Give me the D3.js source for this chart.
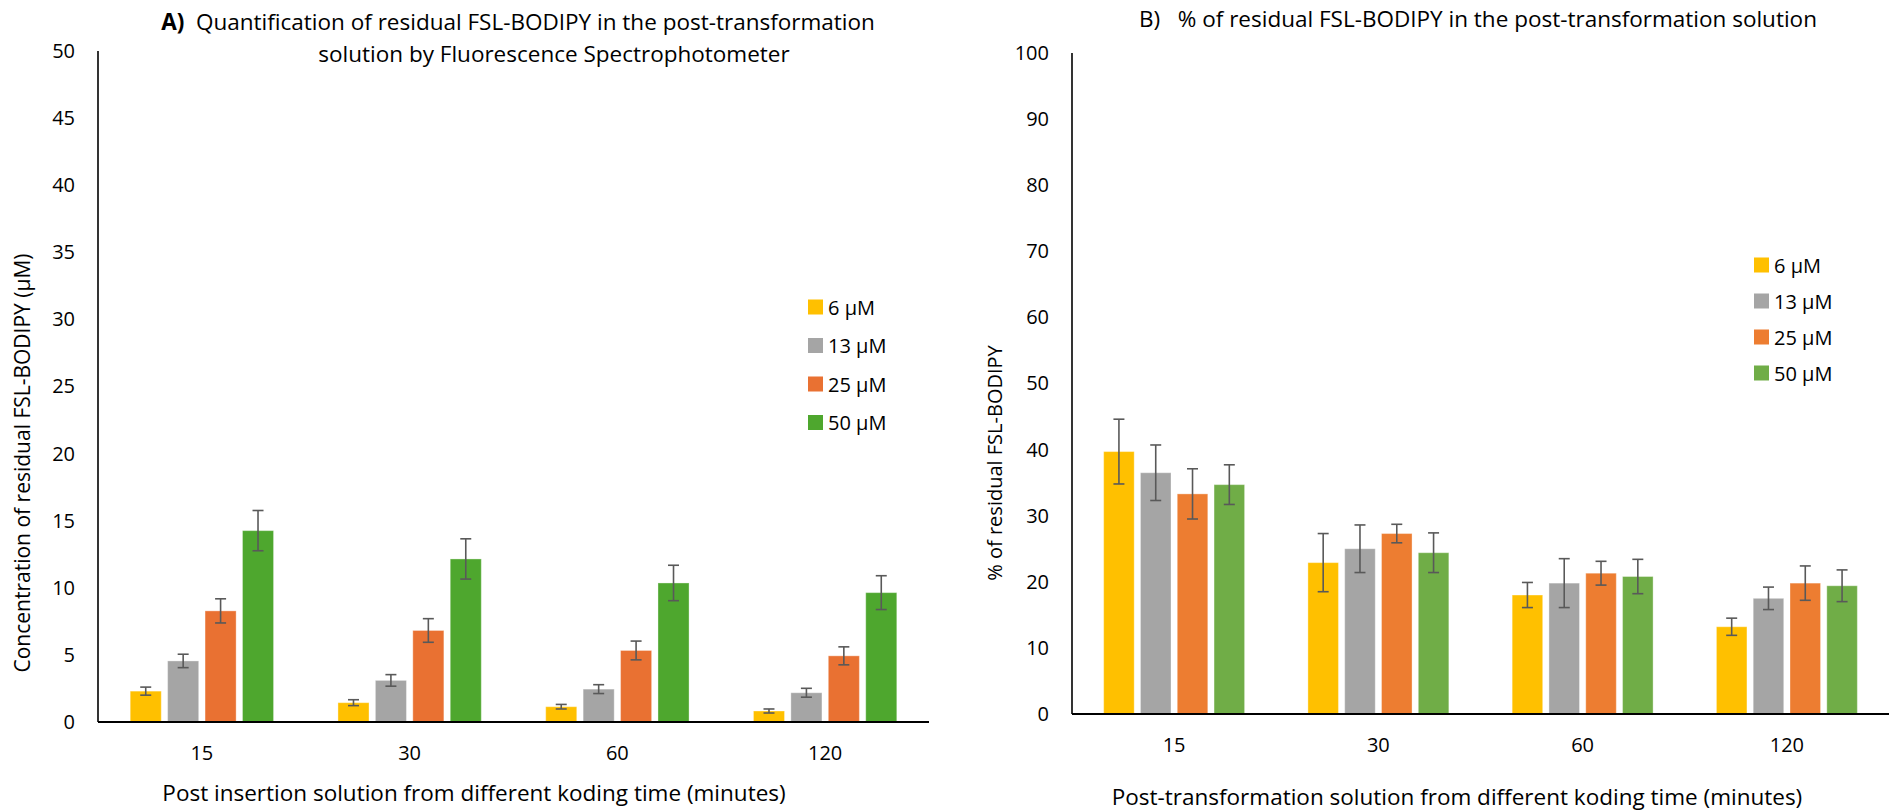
<!DOCTYPE html>
<html>
<head>
<meta charset="utf-8">
<script src="https://cdn.jsdelivr.net/npm/d3@7"></script>
<style>
  html, body { margin: 0; padding: 0; background: #fff; }
  svg { display: block; font-family: "Open Sans", "Liberation Sans", sans-serif; }
</style>
</head>
<body>
<svg id="chart" width="1889" height="812"></svg>
<script>
// Koding times (x categories) and concentration series
const times = ["15", "30", "60", "120"];
const seriesNames = ["6 μM", "13 μM", "25 μM", "50 μM"];

// Panel A: residual concentration (μM), mean and error per series, ordered by time
const concMean = [
  [2.30, 1.44, 1.14, 0.82],
  [4.55, 3.10, 2.45, 2.18],
  [8.28, 6.82, 5.33, 4.93],
  [14.26, 12.15, 10.36, 9.64]
];
const concErr = [
  [0.30, 0.22, 0.17, 0.15],
  [0.50, 0.43, 0.33, 0.33],
  [0.90, 0.88, 0.70, 0.67],
  [1.50, 1.50, 1.32, 1.26]
];

// Panel B: residual percentage, mean and error per series, ordered by time
const pctMean = [
  [39.7, 22.9, 18.0, 13.2],
  [36.5, 25.0, 19.8, 17.5],
  [33.3, 27.3, 21.3, 19.8],
  [34.7, 24.4, 20.8, 19.4]
];
const pctErr = [
  [4.9, 4.4, 1.9, 1.3],
  [4.2, 3.6, 3.7, 1.7],
  [3.8, 1.4, 1.8, 2.6],
  [3.0, 3.0, 2.6, 2.4]
];

const concTicks = d3.range(0, 51, 5);
const pctTicks = d3.range(0, 101, 10);

const colorsA = ["#FFC000", "#A5A5A5", "#E97132", "#4EA72E"];
const colorsB = ["#FFC000", "#A5A5A5", "#ED7D31", "#70AD47"];

const titleSize = 22.5;
const svg = d3.select("#chart");

function drawPanel(cfg) {
  const g = svg.append("g");
  const x = d3.scaleBand().domain(times).range([cfg.x0, cfg.x1])
    .paddingInner(0.31).paddingOuter(0.155);
  const xs = d3.scaleBand().domain(d3.range(seriesNames.length))
    .range([0, x.bandwidth()]).paddingInner(0.17);
  const y = d3.scaleLinear().domain([0, cfg.max]).range([cfg.yBase, cfg.yTop]);

  // bars and error bars
  cfg.mean.forEach((vals, si) => {
    const sg = g.append("g");
    sg.selectAll("rect").data(vals).join("rect")
      .attr("x", (d, i) => x(times[i]) + xs(si))
      .attr("y", d => y(d))
      .attr("width", xs.bandwidth())
      .attr("height", d => y(0) - y(d))
      .attr("fill", cfg.colors[si])
      .attr("stroke", "#ffffff")
      .attr("stroke-opacity", 0.35)
      .attr("stroke-width", 1);

    const eg = sg.selectAll("g.err").data(vals).join("g").attr("class", "err")
      .attr("stroke", "#595959").attr("stroke-width", 1.6).attr("fill", "none");
    eg.each(function (d, i) {
      const e = cfg.err[si][i];
      const cx = x(times[i]) + xs(si) + xs.bandwidth() / 2;
      const sel = d3.select(this);
      sel.append("line").attr("x1", cx).attr("x2", cx).attr("y1", y(d + e)).attr("y2", y(d - e));
      sel.append("line").attr("x1", cx - 5.5).attr("x2", cx + 5.5).attr("y1", y(d + e)).attr("y2", y(d + e));
      sel.append("line").attr("x1", cx - 5.5).attr("x2", cx + 5.5).attr("y1", y(d - e)).attr("y2", y(d - e));
    });
  });

  // y axis: line plus labels, no tick marks
  const ya = g.append("g").attr("transform", `translate(${cfg.x0},0)`)
    .call(d3.axisLeft(y).tickValues(cfg.ticks).tickSize(0).tickPadding(23));
  ya.select(".domain").attr("stroke", "#000").attr("stroke-width", 1.6)
    .attr("d", `M0,${cfg.yTop}V${cfg.yBase}`);
  ya.selectAll("text").attr("font-size", 20).attr("fill", "#000")
    .attr("font-family", "'Open Sans', sans-serif");

  // x axis
  const xa = g.append("g").attr("transform", `translate(0,${cfg.yBase})`)
    .call(d3.axisBottom(x).tickSize(0).tickPadding(cfg.catPad));
  xa.select(".domain").attr("stroke", "#000").attr("stroke-width", 2.2)
    .attr("d", `M${cfg.x0},0H${cfg.x1}`);
  xa.selectAll("text").attr("font-size", 20).attr("fill", "#000")
    .attr("font-family", "'Open Sans', sans-serif");

  // axis titles
  g.append("text").attr("x", cfg.xtX).attr("y", cfg.xtY)
    .attr("text-anchor", "middle").attr("font-size", titleSize).attr("fill", "#000")
    .text(cfg.xTitle);
  g.append("text")
    .attr("transform", `translate(${cfg.ytX},${cfg.ytY}) rotate(-90)`)
    .attr("text-anchor", "middle").attr("dominant-baseline", "central")
    .attr("font-size", cfg.ytSize).attr("fill", "#000")
    .text(cfg.yTitle);

  // legend
  const lg = g.append("g");
  seriesNames.forEach((n, i) => {
    const cy = cfg.legY + i * cfg.legStep;
    lg.append("rect").attr("x", cfg.legX).attr("y", cy - 7.5)
      .attr("width", 15).attr("height", 15).attr("fill", cfg.colors[i]);
    lg.append("text").attr("x", cfg.legX + 20).attr("y", cy)
      .attr("dominant-baseline", "central").attr("font-size", 20).attr("fill", "#000")
      .text(n);
  });
  return g;
}

drawPanel({
  x0: 98, x1: 929, yTop: 51, yBase: 722, max: 50, ticks: concTicks,
  mean: concMean, err: concErr, colors: colorsA, catPad: 24,
  xTitle: "Post insertion solution from different koding time (minutes)",
  xtX: 474, xtY: 801,
  yTitle: "Concentration of residual FSL-BODIPY (μM)", ytX: 22, ytY: 463, ytSize: 21,
  legX: 808, legY: 307, legStep: 38.5
});

drawPanel({
  x0: 1072, x1: 1889, yTop: 53, yBase: 714, max: 100, ticks: pctTicks,
  mean: pctMean, err: pctErr, colors: colorsB, catPad: 24,
  xTitle: "Post-transformation solution from different koding time (minutes)",
  xtX: 1457, xtY: 805,
  yTitle: "% of residual FSL-BODIPY", ytX: 994, ytY: 463, ytSize: 20,
  legX: 1754, legY: 265, legStep: 36
});

// panel titles
const tA = svg.append("text").attr("font-size", titleSize).attr("fill", "#000")
  .attr("text-anchor", "middle").attr("xml:space", "preserve");
tA.append("tspan").attr("x", 518).attr("y", 30)
  .call(t => t.append("tspan").attr("font-weight", "bold").text("A)"))
  .call(t => t.append("tspan").text("  Quantification of residual FSL-BODIPY in the post-transformation"));
svg.append("text").attr("font-size", titleSize).attr("fill", "#000").attr("text-anchor", "middle")
  .attr("x", 554).attr("y", 62).text("solution by Fluorescence Spectrophotometer");

svg.append("text").attr("font-size", titleSize).attr("fill", "#000").attr("text-anchor", "middle")
  .attr("x", 1478).attr("y", 27).attr("xml:space", "preserve")
  .text("B)   % of residual FSL-BODIPY in the post-transformation solution");
</script>
</body>
</html>
